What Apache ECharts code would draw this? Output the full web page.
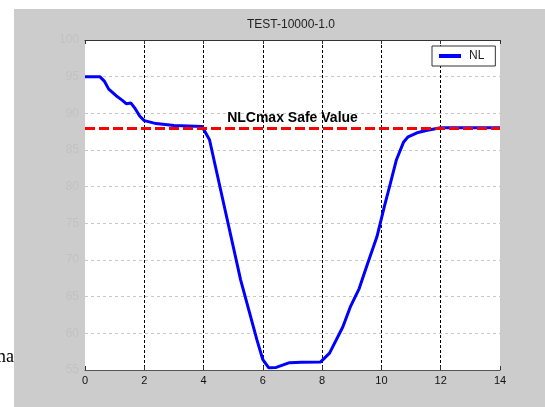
<!DOCTYPE html>
<html>
<head>
<meta charset="utf-8">
<script src="https://cdn.jsdelivr.net/npm/echarts@6/dist/echarts.min.js"></script>
<style>
  html, body { margin: 0; padding: 0; background: #fff; }
  #chart { width: 545px; height: 407px; }
</style>
</head>
<body>
<div id="chart"></div>
<script>
// time axis (x) and NL values (y)
const timeValues = [0, 0.5, 0.65, 0.8, 1.05, 1.25, 1.4, 1.55, 1.7, 1.85, 2.0, 2.4, 3.0, 3.95,
  4.2, 4.7, 5.25, 5.8, 6.0, 6.2, 6.45, 6.9, 7.3, 7.95, 8.25, 8.7, 8.95, 9.25, 9.5, 9.85,
  10.1, 10.3, 10.5, 10.75, 10.9, 11.2, 11.55, 12.0, 14]
const nlValues = [95, 95, 94.4, 93.3, 92.4, 91.8, 91.3, 91.4, 90.6, 89.6, 89.0, 88.6, 88.35, 88.2,
  86.4, 77.3, 67.3, 59.1, 56.4, 55.3, 55.35, 56.0, 56.05, 56.1, 57.3, 60.9, 63.6, 66.1, 69.1, 73.2,
  77.3, 80.4, 83.6, 86.1, 86.8, 87.35, 87.7, 88.04, 88.04]
const safeValue = 88
const safeLabel = 'NLCmax Safe Value'
const seriesName = 'NL'
const chartTitle = 'TEST-10000-1.0'

const chart = echarts.init(document.getElementById('chart'))

const points = timeValues.map((t, i) => [t, nlValues[i]])

chart.setOption({
  backgroundColor: '#cccccc',
  animation: false,
  textStyle: { fontFamily: 'Liberation Sans, Arial, sans-serif' },
  title: {
    text: chartTitle,
    left: 291,
    top: 19,
    padding: 0,
    textAlign: 'center',
    textStyle: { fontSize: 12, fontWeight: 'normal', color: '#222' },
  },
  // white margins of the page around the figure, and the stray word behind it
  graphic: [
    { type: 'rect', left: 0, top: 0, shape: { width: 545, height: 9 }, style: { fill: '#fff' }, silent: true },
    { type: 'rect', left: 0, top: 0, shape: { width: 14, height: 407 }, style: { fill: '#fff' }, silent: true },
    {
      type: 'text', x: 14, y: 366, silent: true,
      style: { text: 'ma', fill: '#000', font: '18px "Liberation Serif", "Times New Roman", serif', align: 'right', verticalAlign: 'bottom' },
    },
  ],
  legend: {
    left: 432,
    top: 46,
    padding: [4, 11, 4, 7],
    backgroundColor: '#fff',
    borderColor: '#333',
    borderWidth: 1,
    borderRadius: 0,
    icon: 'rect',
    itemWidth: 22,
    itemHeight: 4,
    textStyle: { fontSize: 12, color: '#222', padding: [0, 0, 0, 3] },
    data: [seriesName],
  },
  grid: {
    left: 85,
    top: 40,
    width: 415,
    height: 330,
    show: true,
    backgroundColor: '#fff',
    borderWidth: 0,
  },
  xAxis: [
    {
      type: 'value',
      min: 0,
      max: 14,
      interval: 2,
      axisLine: { show: true, lineStyle: { color: '#555', width: 1 } },
      axisTick: { show: true, inside: true, length: 4, lineStyle: { color: '#333' } },
      axisLabel: { fontSize: 11, color: '#111', margin: 5 },
      splitLine: { show: true, showMinLine: false, showMaxLine: false, lineStyle: { color: '#000', type: [3, 2], width: 1 } },
    },
    {
      type: 'value',
      position: 'top',
      min: 0,
      max: 14,
      interval: 2,
      axisLine: { show: true, lineStyle: { color: '#333', width: 1 } },
      axisTick: { show: true, inside: true, length: 4, lineStyle: { color: '#333' } },
      axisLabel: { show: false },
      splitLine: { show: false },
    },
  ],
  yAxis: {
    type: 'value',
    min: 55,
    max: 100,
    interval: 5,
    axisLine: { show: false },
    axisTick: { show: false },
    axisLabel: { fontSize: 12, color: '#c2c2c2', margin: 6 },
    splitLine: { show: true, showMinLine: false, showMaxLine: false, lineStyle: { color: '#c8c8c8', type: [3, 3], width: 1 } },
  },
  series: [
    {
      name: seriesName,
      type: 'line',
      data: points,
      showSymbol: false,
      symbol: 'none',
      z: 2,
      lineStyle: { color: '#0000ff', width: 3 },
      itemStyle: { color: '#0000ff' },
      markLine: {
        silent: true,
        symbol: 'none',
        z: 5,
        lineStyle: { color: '#ff0000', type: [10, 4], width: 3 },
        label: {
          show: true,
          position: 'insideMiddleTop',
          distance: 3,
          formatter: safeLabel,
          fontSize: 14,
          fontWeight: 'bold',
          color: '#000',
        },
        emphasis: { disabled: true },
        data: [{ yAxis: safeValue }],
      },
    },
  ],
})
</script>
</body>
</html>
